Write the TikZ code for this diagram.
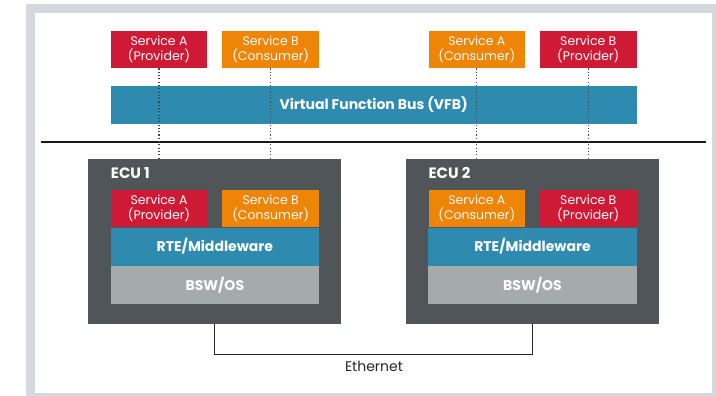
\documentclass[tikz,border=0pt]{standalone}
\usepackage{fontspec}
\setmainfont{Poppins}
\definecolor{frame}{HTML}{D3D9DF}
\definecolor{prov}{HTML}{CF1A36}
\definecolor{cons}{HTML}{EE8506}
\definecolor{vfb}{HTML}{2E8BAF}
\definecolor{ecu}{HTML}{4F5558}
\definecolor{bsw}{HTML}{A5AAAB}
\definecolor{dots}{HTML}{444444}
\begin{document}
\begin{tikzpicture}[x=1pt,y=-1pt,
  svc/.style={minimum width=96.6pt,minimum height=37.6pt,inner sep=0pt,align=center,text=white!92!pink,font=\fontsize{12.5}{14.5}\selectfont},
  provbox/.style={svc,fill=prov},
  consbox/.style={svc,fill=cons},
  layer/.style={minimum width=208.3pt,minimum height=38pt,inner sep=0pt,text=white,font=\fontsize{14}{16}\selectfont\bfseries},
  ecubox/.style={fill=ecu,minimum width=252.7pt,minimum height=164.7pt,inner sep=0pt},
  ecutitle/.style={anchor=west,text=white,inner sep=0pt,font=\fontsize{15}{17}\selectfont\bfseries},
  dotline/.style={draw=dots,line width=1.1pt,dash pattern=on 1.1pt off 2.2pt},
  eth/.style={draw=black!85,line width=1pt}
]
\useasboundingbox (0,0) rectangle (716,396);
% frame
\fill[frame] (26,4.5) rectangle (716,396);
\fill[white] (35,13) rectangle (712,393);

% top services
\node[provbox] (sa1) at (159,49.5) {Service A\\(Provider)};
\node[consbox] (sb1) at (270.7,49.5) {Service B\\(Consumer)};
\node[consbox] (sa2) at (476.8,49.5) {Service A\\(Consumer)};
\node[provbox] (sb2) at (588.3,49.5) {Service B\\(Provider)};

% VFB
\node[fill=vfb,minimum width=526pt,minimum height=38pt,inner sep=0pt,text=white,font=\fontsize{14}{16}\selectfont\bfseries] (vfb) at (373.7,105) {Virtual Function Bus (VFB)};

% separator
\coordinate (sepL) at (41,141.7);
\coordinate (sepR) at (706,141.7);
\draw[line width=2pt,black!90] (sepL) -- (sepR);

% ECUs
\node[ecubox] (ecu1) at (214.7,241.7) {};
\node[ecubox] (ecu2) at (532.5,241.7) {};
\node[ecutitle] (t1) at (110.7,173.3) {ECU 1};
\node[ecutitle] (t2) at (428.3,173.3) {ECU 2};

% ECU1 content
\node[provbox] (ia1) at (159,208.3) {Service A\\(Provider)};
\node[consbox] (ib1) at (270.7,208.3) {Service B\\(Consumer)};
\node[layer,fill=vfb] (rte1) at (214.85,246.5) {RTE/Middleware};
\node[layer,fill=bsw] (bsw1) at (214.85,284.7) {BSW/OS};

% ECU2 content
\node[consbox] (ia2) at (476.8,208.3) {Service A\\(Consumer)};
\node[provbox] (ib2) at (588.3,208.3) {Service B\\(Provider)};
\node[layer,fill=vfb] (rte2) at (532.5,246.5) {RTE/Middleware};
\node[layer,fill=bsw] (bsw2) at (532.5,284.7) {BSW/OS};

% dotted links
\draw[dotline] (sa1.south) -- (sa1.south |- ecu1.north);
\draw[dotline] (sb1.south) -- (sb1.south |- ecu1.north);
\draw[dotline] (sa2.south) -- (sa2.south |- ecu2.north);
\draw[dotline] (sb2.south) -- (sb2.south |- ecu2.north);

% ethernet
\coordinate (e1) at (214.7,354.3);
\coordinate (e2) at (532.5,354.3);
\draw[eth] (ecu1.south) -- (e1) -- (e2) -- (ecu2.south);
\node[font=\fontsize{14}{16}\selectfont,text=black!85,inner sep=0pt] (ethl) at (374,366.7) {Ethernet};
\end{tikzpicture}
\end{document}
